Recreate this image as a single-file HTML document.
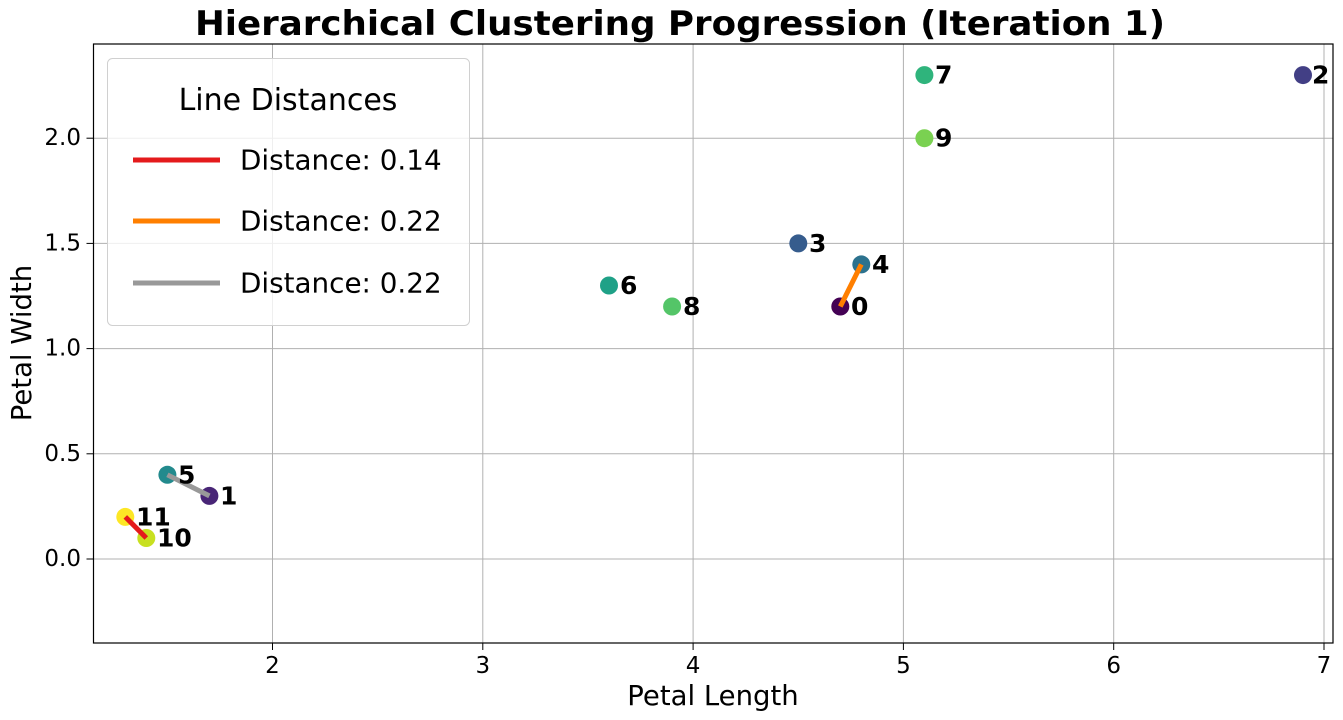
<!DOCTYPE html>
<html><head><meta charset="utf-8"><style>body{margin:0;background:#fff}svg{display:block}text{font-family:"DejaVu Sans","Liberation Sans",sans-serif}</style></head><body>
<svg width="1343" height="720" xmlns="http://www.w3.org/2000/svg">
<rect width="1343" height="720" fill="#fff"/>
<g stroke="#b0b0b0" stroke-width="1">
<line x1="272.5" y1="44" x2="272.5" y2="643"/><line x1="482.8" y1="44" x2="482.8" y2="643"/><line x1="693.1" y1="44" x2="693.1" y2="643"/><line x1="903.4" y1="44" x2="903.4" y2="643"/><line x1="1113.7" y1="44" x2="1113.7" y2="643"/><line x1="1324" y1="44" x2="1324" y2="643"/>
<line x1="93.5" y1="559" x2="1333" y2="559"/><line x1="93.5" y1="453.8" x2="1333" y2="453.8"/><line x1="93.5" y1="348.6" x2="1333" y2="348.6"/><line x1="93.5" y1="243.4" x2="1333" y2="243.4"/><line x1="93.5" y1="138.2" x2="1333" y2="138.2"/>
</g>
<g>
<circle cx="840.3" cy="306.5" r="9" fill="#440154"/>
<circle cx="209.4" cy="495.9" r="9" fill="#482576"/>
<circle cx="1303" cy="75.1" r="9" fill="#423f85"/>
<circle cx="798.3" cy="243.4" r="9" fill="#365c8d"/>
<circle cx="861.3" cy="264.4" r="9" fill="#2c728e"/>
<circle cx="167.4" cy="474.8" r="9" fill="#238a8d"/>
<circle cx="609" cy="285.5" r="9" fill="#1fa187"/>
<circle cx="924.4" cy="75.1" r="9" fill="#2fb47c"/>
<circle cx="672.1" cy="306.5" r="9" fill="#54c568"/>
<circle cx="924.4" cy="138.2" r="9" fill="#7ad151"/>
<circle cx="146.3" cy="538" r="9" fill="#c8e020"/>
<circle cx="125.3" cy="516.9" r="9" fill="#fde725"/>
</g>
<g stroke-width="5">
<line x1="125.3" y1="516.9" x2="146.3" y2="538" stroke="#e41a1c"/>
<line x1="840.3" y1="306.5" x2="861.3" y2="264.4" stroke="#ff7f00"/>
<line x1="167.4" y1="474.8" x2="209.4" y2="495.9" stroke="#999999"/>
</g>
<g font-size="25" font-weight="bold" fill="#000" dominant-baseline="central">
<text x="851" y="306.5">0</text><text x="220" y="495.9">1</text><text x="1312" y="75.1">2</text><text x="809" y="243.4">3</text><text x="872" y="264.4">4</text><text x="178" y="474.8">5</text><text x="620" y="285.5">6</text><text x="935" y="75.1">7</text><text x="683" y="306.5">8</text><text x="935" y="138.2">9</text><text x="157" y="538">10</text><text x="136" y="516.9">11</text>
</g>
<rect x="93.5" y="44" width="1239.5" height="599" fill="none" stroke="#000" stroke-width="1.2"/>
<g stroke="#000" stroke-width="1">
<line x1="272.5" y1="643" x2="272.5" y2="650"/><line x1="482.8" y1="643" x2="482.8" y2="650"/><line x1="693.1" y1="643" x2="693.1" y2="650"/><line x1="903.4" y1="643" x2="903.4" y2="650"/><line x1="1113.7" y1="643" x2="1113.7" y2="650"/><line x1="1324" y1="643" x2="1324" y2="650"/>
<line x1="86.5" y1="559" x2="93.5" y2="559"/><line x1="86.5" y1="453.8" x2="93.5" y2="453.8"/><line x1="86.5" y1="348.6" x2="93.5" y2="348.6"/><line x1="86.5" y1="243.4" x2="93.5" y2="243.4"/><line x1="86.5" y1="138.2" x2="93.5" y2="138.2"/>
</g>
<g font-size="23" fill="#000" text-anchor="middle">
<text x="272.5" y="673">2</text><text x="482.8" y="673">3</text><text x="693.1" y="673">4</text><text x="903.4" y="673">5</text><text x="1113.7" y="673">6</text><text x="1324" y="673">7</text>
</g>
<g font-size="23" fill="#000" text-anchor="end" dominant-baseline="central">
<text x="81" y="559">0.0</text><text x="81" y="453.8">0.5</text><text x="81" y="348.6">1.0</text><text x="81" y="243.4">1.5</text><text x="81" y="138.2">2.0</text>
</g>
<text x="713" y="705" font-size="27.5" text-anchor="middle">Petal Length</text>
<text transform="translate(31,343) rotate(-90)" font-size="27.5" text-anchor="middle">Petal Width</text>
<text x="195" y="35" font-size="34" font-weight="bold" textLength="970" lengthAdjust="spacingAndGlyphs">Hierarchical Clustering Progression (Iteration 1)</text>
<rect x="107.5" y="58.5" width="362" height="267" rx="5" fill="#fff" fill-opacity="0.8" stroke="#d0d0d0" stroke-width="1"/>
<text x="288" y="110" font-size="30" text-anchor="middle">Line Distances</text>
<line x1="133" y1="160" x2="220" y2="160" stroke="#e41a1c" stroke-width="5"/>
<line x1="133" y1="221" x2="220" y2="221" stroke="#ff7f00" stroke-width="5"/>
<line x1="133" y1="283" x2="220" y2="283" stroke="#999999" stroke-width="5"/>
<g font-size="27.8" fill="#000" dominant-baseline="central">
<text x="240" y="160">Distance: 0.14</text><text x="240" y="221">Distance: 0.22</text><text x="240" y="283">Distance: 0.22</text>
</g>
</svg>
</body></html>
